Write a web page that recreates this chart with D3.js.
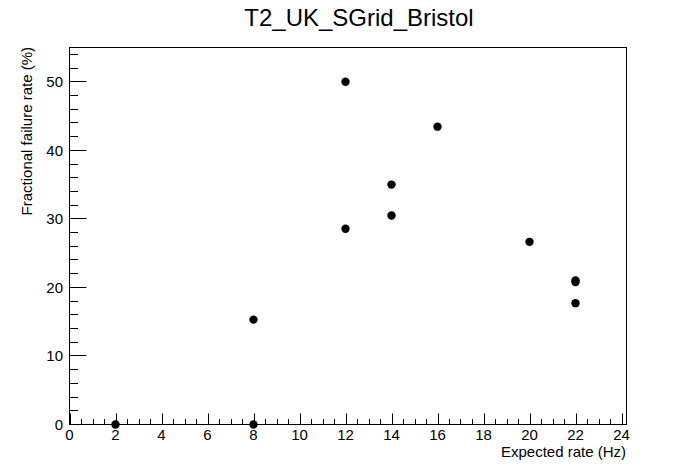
<!DOCTYPE html>
<html>
<head>
<meta charset="utf-8">
<script src="https://cdn.jsdelivr.net/npm/d3@7"></script>
<style>
  html, body { margin: 0; padding: 0; background: #fff; }
  svg { display: block; }
  text { font-family: "Liberation Sans", Arial, Helvetica, sans-serif; fill: #000; }
</style>
</head>
<body>
<div id="chart"></div>
<script>
// ---- data ----
const title = "T2_UK_SGrid_Bristol";
const xTitle = "Expected rate (Hz)";
const yTitle = "Fractional failure rate (%)";
const xValues = [2, 8, 8, 12, 12, 14, 14, 16, 20, 22, 22, 22];
const yValues = [0, 0, 15.3, 50, 28.55, 35, 30.5, 43.45, 26.65, 21.0, 20.8, 17.7];
const xDomain = [0, 24.25];
const yDomain = [0, 55];
const xMajorTicks = [0, 2, 4, 6, 8, 10, 12, 14, 16, 18, 20, 22, 24];
const yMajorTicks = [0, 10, 20, 30, 40, 50];

const W = 696, H = 472;
const frame = { left: 69.5, right: 626.5, top: 47.5, bottom: 424.5 };

const svg = d3.select("#chart").append("svg")
  .attr("width", W).attr("height", H);

const x = d3.scaleLinear().domain(xDomain).range([frame.left, frame.left + 23 * xDomain[1]]);
const y = d3.scaleLinear().domain(yDomain).range([frame.bottom, frame.top]);

// frame
svg.append("rect")
  .attr("x", frame.left).attr("y", frame.top)
  .attr("width", frame.right - frame.left).attr("height", frame.bottom - frame.top)
  .attr("fill", "none").attr("stroke", "#000").attr("stroke-width", 1);

// x axis ticks (inward)
const xMinor = d3.range(0, 24.01, 0.5).filter(v => v <= xDomain[1]);
const xMajLen = 11, xMinLen = 5.5;
svg.append("g").selectAll("line").data(xMinor).join("line")
  .attr("x1", d => Math.round(x(d)) + 0.5).attr("x2", d => Math.round(x(d)) + 0.5)
  .attr("y1", frame.bottom)
  .attr("y2", d => frame.bottom - (xMajorTicks.includes(d) ? xMajLen : xMinLen))
  .attr("stroke", "#000").attr("stroke-width", 1);

svg.append("g").selectAll("text").data(xMajorTicks).join("text")
  .attr("x", d => x(d)).attr("y", 440)
  .attr("text-anchor", "middle")
  .attr("font-size", 15)
  .text(d => d);

// y axis ticks (inward)
const yMinor = d3.range(0, 55.01, 2).filter(v => v <= yDomain[1]);
const yMajLen = 17, yMinLen = 8.5;
svg.append("g").selectAll("line").data(yMinor).join("line")
  .attr("y1", d => Math.round(y(d) - 0.5) + 0.5).attr("y2", d => Math.round(y(d) - 0.5) + 0.5)
  .attr("x1", frame.left)
  .attr("x2", d => frame.left + (yMajorTicks.includes(d) ? yMajLen : yMinLen))
  .attr("stroke", "#000").attr("stroke-width", 1);

svg.append("g").selectAll("text").data(yMajorTicks).join("text")
  .attr("x", 63).attr("y", d => y(d) + 5.5)
  .attr("text-anchor", "end")
  .attr("font-size", 15)
  .text(d => d);

// points
const pts = xValues.map((v, i) => ({ x: v, y: yValues[i] }));
svg.append("g").selectAll("circle").data(pts).join("circle")
  .attr("cx", d => x(d.x)).attr("cy", d => y(d.y))
  .attr("r", 4.2).attr("fill", "#000");

// titles
svg.append("text")
  .attr("x", 359).attr("y", 26)
  .attr("text-anchor", "middle")
  .attr("font-size", 24)
  .text(title);

svg.append("text")
  .attr("x", 626).attr("y", 457)
  .attr("text-anchor", "end")
  .attr("font-size", 15)
  .text(xTitle);

svg.append("text")
  .attr("transform", "translate(32,47) rotate(-90)")
  .attr("text-anchor", "end")
  .attr("font-size", 15)
  .text(yTitle);
</script>
</body>
</html>
